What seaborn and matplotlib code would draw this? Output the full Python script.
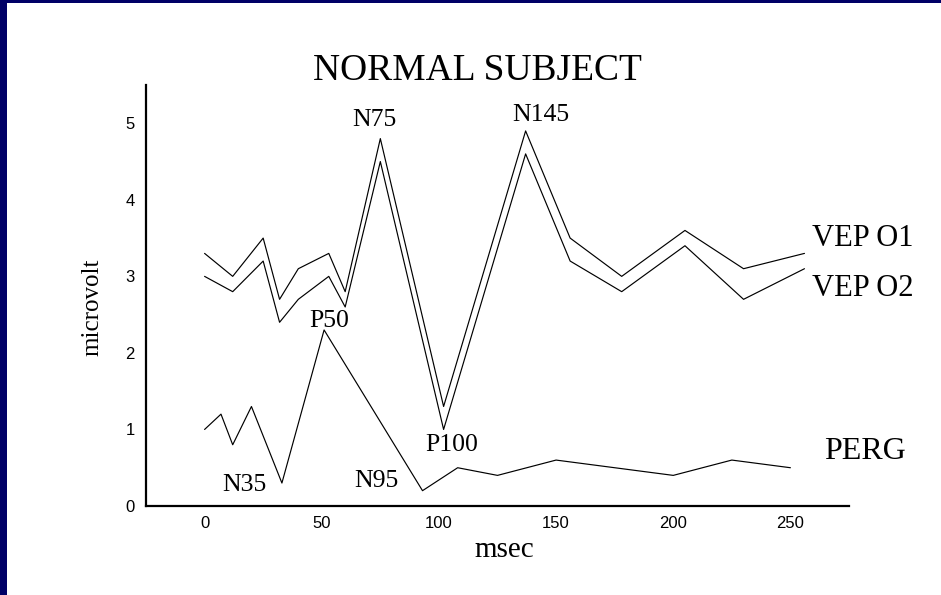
import matplotlib
matplotlib.use("Agg")
import matplotlib.pyplot as plt
import seaborn as sns
import pandas as pd
from matplotlib import font_manager
from matplotlib.patches import Rectangle
from matplotlib.ticker import MultipleLocator

# Evoked potential traces (time in msec, amplitude in microvolt)
vep_o1_ms = [0, 12, 25, 32, 40, 53, 60, 75, 102, 137, 156, 178, 205, 230, 256]
vep_o1_uv = [3.3, 3.0, 3.5, 2.7, 3.1, 3.3, 2.8, 4.8, 1.3, 4.9, 3.5, 3.0, 3.6, 3.1, 3.3]
vep_o2_ms = [0, 12, 25, 32, 40, 53, 60, 75, 102, 137, 156, 178, 205, 230, 256]
vep_o2_uv = [3.0, 2.8, 3.2, 2.4, 2.7, 3.0, 2.6, 4.5, 1.0, 4.6, 3.2, 2.8, 3.4, 2.7, 3.1]
perg_ms = [0, 7, 12, 20, 33, 51, 93, 108, 125, 150, 200, 225, 250]
perg_uv = [1.0, 1.2, 0.8, 1.3, 0.3, 2.3, 0.2, 0.5, 0.4, 0.6, 0.4, 0.6, 0.5]

# Component labels: (text, x, y baseline)
peak_labels = [
    ("N75", 72.4, 4.96),
    ("N145", 143.6, 5.03),
    ("P50", 53.0, 2.34),
    ("P100", 105.3, 0.72),
    ("N35", 16.9, 0.19),
    ("N95", 73.5, 0.25),
]
trace_labels = [
    ("VEP O1", 259.0, 3.40, 22),
    ("VEP O2", 259.0, 2.74, 22),
    ("PERG", 264.5, 0.61, 23),
]

x_ticks = [0, 50, 100, 150, 200, 250]
y_ticks = [0, 1, 2, 3, 4, 5]

sns.set_theme(style="white")
serif = "Liberation Serif"
installed = {f.name for f in font_manager.fontManager.ttflist}
tick_font = "Liberation Sans Narrow" if "Liberation Sans Narrow" in installed else "Liberation Sans"
plt.rcParams["font.family"] = [serif, "DejaVu Serif"]

W, H = 941, 595
fig = plt.figure(figsize=(W / 100, H / 100), dpi=100)
fig.patch.set_facecolor("white")

# Navy frame strips along the top and left edges
fig.patches.append(Rectangle((0, 1 - 3 / H), 1, 3 / H, transform=fig.transFigure,
                             facecolor="#000066", edgecolor="none", zorder=0))
fig.patches.append(Rectangle((0, 0), 7 / W, 1, transform=fig.transFigure,
                             facecolor="#000066", edgecolor="none", zorder=0))

ax_l, ax_r, ax_t, ax_b = 146, 849, 85, 506
ax = fig.add_axes([ax_l / W, (H - ax_b) / H, (ax_r - ax_l) / W, (ax_b - ax_t) / H])
ax.set_facecolor("white")

traces = pd.concat([
    pd.DataFrame({"msec": vep_o1_ms, "uv": vep_o1_uv, "trace": "VEP O1"}),
    pd.DataFrame({"msec": vep_o2_ms, "uv": vep_o2_uv, "trace": "VEP O2"}),
    pd.DataFrame({"msec": perg_ms, "uv": perg_uv, "trace": "PERG"}),
])
sns.lineplot(data=traces, x="msec", y="uv", units="trace", estimator=None,
             color="black", linewidth=0.85, sort=False, legend=False, ax=ax)

ax.set_xlim(-25, 275)
ax.set_ylim(0, 5.5)
ax.set_xticks(x_ticks)
ax.set_yticks(y_ticks)
ax.xaxis.set_minor_locator(MultipleLocator(25))
ax.yaxis.set_minor_locator(MultipleLocator(0.5))
for side in ("top", "right"):
    ax.spines[side].set_visible(False)
for side in ("left", "bottom"):
    ax.spines[side].set_linewidth(1.6)
    ax.spines[side].set_color("black")
ax.tick_params(which="major", direction="in", length=7.5, width=1.1, color="black")
ax.tick_params(which="minor", direction="in", length=4, width=1.1, color="black")
ax.tick_params(axis="x", which="major", pad=7)
ax.tick_params(axis="y", which="major", pad=8)
for lbl in ax.get_xticklabels() + ax.get_yticklabels():
    lbl.set_fontfamily(tick_font)
    lbl.set_fontsize(12)
    lbl.set_color("black")

ax.set_xlabel("msec", fontsize=21, va="baseline", color="black")
ax.xaxis.set_label_coords((504 - ax_l) / (ax_r - ax_l), -(557 - ax_b) / (ax_b - ax_t))
ax.set_ylabel("microvolt", fontsize=18, va="center", ha="center", color="black")
ax.yaxis.set_label_coords((92 - ax_l) / (ax_r - ax_l), (ax_b - 307) / (ax_b - ax_t))

for txt, x, y in peak_labels:
    ax.text(x, y, txt, fontsize=18.5, ha="center", va="baseline", color="black")
for txt, x, y, size in trace_labels:
    ax.text(x, y, txt, fontsize=size, ha="left", va="baseline", color="black",
            clip_on=False)

fig.text(477 / W, (H - 80) / H, "NORMAL SUBJECT", fontsize=27, ha="center",
         va="baseline", color="black")

fig.savefig("out.png", dpi=100, facecolor="white")
